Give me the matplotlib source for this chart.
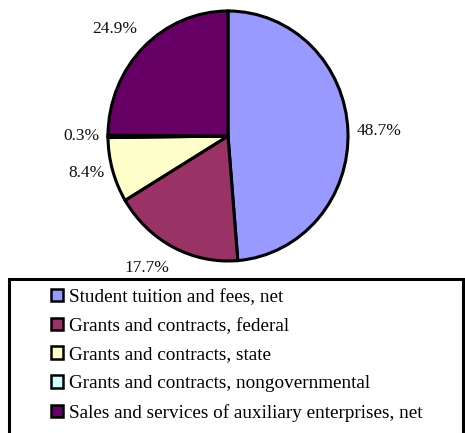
import matplotlib
matplotlib.use("Agg")
import matplotlib.pyplot as plt
import matplotlib.transforms as mtransforms
from matplotlib.patches import Patch, Rectangle

categories = [
    "Student tuition and fees, net",
    "Grants and contracts, federal",
    "Grants and contracts, state",
    "Grants and contracts, nongovernmental",
    "Sales and services of auxiliary enterprises, net",
]
values = [48.7, 17.7, 8.4, 0.3, 24.9]
pct_labels = ["48.7%", "17.7%", "8.4%", "0.3%", "24.9%"]
colors = ["#9999FF", "#993366", "#FFFFCC", "#CCFFFF", "#660066"]

plt.rcParams["font.family"] = ["Liberation Serif", "DejaVu Serif"]

W, H = 465, 433
fig = plt.figure(figsize=(W / 100, H / 100), dpi=100)

# pie area (slightly elliptical as in the reference)
px0, px1, py0, py1 = 108, 348, 11, 261
ax = fig.add_axes([px0 / W, 1 - py1 / H, (px1 - px0) / W, (py1 - py0) / H])
wedges, texts = ax.pie(
    values, colors=colors, startangle=90, counterclock=False,
    labels=pct_labels, labeldistance=1.07,
    wedgeprops=dict(edgecolor="black", linewidth=2.2),
    textprops=dict(fontsize=12.5, color="#111111"),
)
for t in texts:
    x, y = t.get_position()
    if y < -0.6:
        t.set_va("top")
        t.set_transform(ax.transData + mtransforms.ScaledTranslation(0, -5 / 100, fig.dpi_scale_trans))
    elif y > 0.6:
        t.set_va("bottom")
        t.set_transform(ax.transData + mtransforms.ScaledTranslation(0, 4 / 100, fig.dpi_scale_trans))
ax.set_aspect("auto")
ax.set_xlim(-1.0, 1.0)
ax.set_ylim(-1.0, 1.0)

# legend frame (clipped at bottom like the reference)
rect = Rectangle((9 / W, -0.05), (463 - 9) / W, (1 - 279 / H) + 0.05,
                 transform=fig.transFigure, fill=False, edgecolor="black",
                 linewidth=2.2, clip_on=False)
fig.add_artist(rect)

handles = [Patch(facecolor=c, edgecolor="black", linewidth=1.8) for c in colors]
fig.legend(handles, categories, loc="upper left",
           bbox_to_anchor=(51 / W, 1 - 289 / H), frameon=False,
           fontsize=13.8, borderpad=0, borderaxespad=0,
           handlelength=0.62, handleheight=0.62, handletextpad=0.3,
           labelspacing=0.61)

fig.savefig("out.png", dpi=100)
